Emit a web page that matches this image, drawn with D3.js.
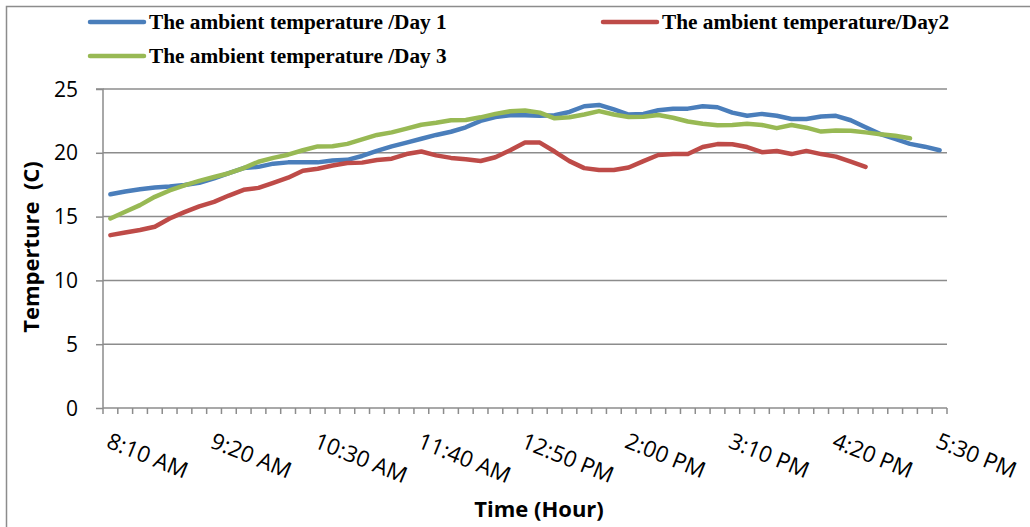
<!DOCTYPE html>
<html lang="en">
<head>
    <meta charset="UTF-8">
    <title>Ambient temperature, three days</title>
    <script src="https://d3js.org/d3.v7.min.js"></script>
    <style>
        body { margin: 0; background: #fff; }
        svg { display: block; overflow: hidden; }
        .grid line { stroke: #8c8c8c; stroke-width: 1.5px; }
        .axis path, .axis line { stroke: #8c8c8c; stroke-width: 1.5px; }
        .tick-label { font-family: "Open Sans", sans-serif; font-size: 21px; fill: #000; }
        .x-label { font-size: 22.5px; }
        .title { font-family: "Open Sans", sans-serif; font-size: 22px; font-weight: bold; fill: #000; }
        .legend text { font-family: "Liberation Serif", "Times New Roman", serif; font-size: 21.3px; font-weight: bold; fill: #000; }
        .series { fill: none; stroke-width: 4.5px; stroke-linejoin: round; stroke-linecap: round; }
    </style>
</head>

<body>
<svg width="1030" height="527"></svg>
<script type="text/javascript">
    // categories: one reading every 10 minutes
    let times = ["8:10 AM","8:20 AM","8:30 AM","8:40 AM","8:50 AM","9:00 AM","9:10 AM","9:20 AM","9:30 AM","9:40 AM",
        "9:50 AM","10:00 AM","10:10 AM","10:20 AM","10:30 AM","10:40 AM","10:50 AM","11:00 AM","11:10 AM","11:20 AM",
        "11:30 AM","11:40 AM","11:50 AM","12:00 PM","12:10 PM","12:20 PM","12:30 PM","12:40 PM","12:50 PM","1:00 PM",
        "1:10 PM","1:20 PM","1:30 PM","1:40 PM","1:50 PM","2:00 PM","2:10 PM","2:20 PM","2:30 PM","2:40 PM",
        "2:50 PM","3:00 PM","3:10 PM","3:20 PM","3:30 PM","3:40 PM","3:50 PM","4:00 PM","4:10 PM","4:20 PM",
        "4:30 PM","4:40 PM","4:50 PM","5:00 PM","5:10 PM","5:20 PM","5:30 PM"];

    let day1 = [16.75,16.97,17.15,17.28,17.36,17.48,17.65,18.0,18.4,18.8,
        18.9,19.15,19.25,19.25,19.25,19.4,19.45,19.75,20.15,20.5,
        20.8,21.1,21.4,21.65,22.0,22.5,22.8,22.95,22.95,22.9,
        22.95,23.2,23.65,23.75,23.4,23.0,23.05,23.33,23.45,23.46,
        23.65,23.57,23.15,22.9,23.05,22.9,22.65,22.65,22.85,22.9,
        22.55,22.0,21.47,21.1,20.7,20.48,20.2];

    let day2 = [13.55,13.75,13.95,14.2,14.85,15.35,15.8,16.15,16.65,17.1,
        17.25,17.65,18.05,18.6,18.75,19.0,19.2,19.23,19.44,19.54,
        19.9,20.1,19.8,19.6,19.5,19.36,19.65,20.2,20.8,20.8,
        20.1,19.35,18.8,18.65,18.65,18.85,19.35,19.83,19.9,19.9,
        20.45,20.68,20.67,20.45,20.05,20.14,19.9,20.15,19.9,19.7,
        19.3,18.9];

    let day3 = [14.85,15.38,15.9,16.55,17.05,17.45,17.8,18.1,18.4,18.8,
        19.3,19.6,19.85,20.2,20.5,20.52,20.7,21.05,21.4,21.6,
        21.9,22.2,22.35,22.55,22.57,22.78,23.05,23.25,23.32,23.15,
        22.7,22.78,23.0,23.27,23.0,22.8,22.83,22.96,22.75,22.45,
        22.27,22.16,22.18,22.27,22.18,21.93,22.18,21.97,21.66,21.75,
        21.73,21.6,21.45,21.34,21.14];

    let yTicks = [0, 5, 10, 15, 20, 25];
    let labelEvery = 7;

    let series = [
        {name: "The ambient temperature /Day 1", values: day1, color: "#4a7ebb"},
        {name: "The ambient temperature/Day2", values: day2, color: "#be4b48"},
        {name: "The ambient temperature /Day 3", values: day3, color: "#98b954"}
    ];

    function draw() {
        let svg = d3.select("svg");
        let left = 103, right = 947, top = 89, bottom = 408;

        // chart frame
        svg.append("rect")
            .attr("x", 6.5).attr("y", 6.5)
            .attr("width", 1060).attr("height", 560)
            .attr("fill", "none").attr("stroke", "#8c8c8c").attr("stroke-width", 1.5);

        let x = d3.scaleBand().domain(times).range([left, right]).padding(0);
        let y = d3.scaleLinear().domain([0, 25]).range([bottom, top]);

        // horizontal gridlines + y ticks outside
        svg.append("g").attr("class", "grid")
            .selectAll("line")
            .data(yTicks.filter(d => d > 0))
            .join("line")
            .attr("x1", left).attr("x2", right)
            .attr("y1", d => y(d)).attr("y2", d => y(d));

        svg.append("g").attr("class", "axis")
            .attr("transform", `translate(${left},0)`)
            .call(d3.axisLeft(y).tickValues(yTicks).tickSize(7).tickFormat(""))
            .call(g => g.select(".domain").attr("d", `M-7,${top}H0V${bottom}`));

        svg.append("g")
            .selectAll("text")
            .data(yTicks)
            .join("text")
            .attr("class", "tick-label")
            .attr("x", 78)
            .attr("y", d => y(d))
            .attr("dy", "0.36em")
            .attr("text-anchor", "end")
            .text(d => d);

        // x axis: ticks between categories
        let bounds = times.map(t => x(t)).concat([right]);
        let xg = svg.append("g").attr("class", "axis");
        xg.append("line")
            .attr("x1", left).attr("x2", right)
            .attr("y1", bottom).attr("y2", bottom);
        xg.selectAll("line.tk")
            .data(bounds)
            .join("line")
            .attr("class", "tk")
            .attr("x1", d => d).attr("x2", d => d)
            .attr("y1", bottom).attr("y2", bottom + 6);

        svg.append("g")
            .selectAll("text")
            .data(times.filter((t, i) => i % labelEvery === 0))
            .join("text")
            .attr("class", "tick-label x-label")
            .attr("transform", d => `translate(${x(d) + x.bandwidth() / 2 + 1},${432}) rotate(22)`)
            .attr("dy", "0.72em")
            .text(d => d);

        // lines
        let line = d3.line()
            .x((d, i) => x(times[i]) + x.bandwidth() / 2)
            .y(d => y(d));

        svg.append("g")
            .selectAll("path")
            .data(series)
            .join("path")
            .attr("class", "series")
            .attr("stroke", d => d.color)
            .attr("d", d => line(d.values));

        // titles
        svg.append("text")
            .attr("class", "title")
            .attr("x", 539).attr("y", 517)
            .attr("text-anchor", "middle")
            .text("Time (Hour)");

        svg.append("text")
            .attr("class", "title")
            .attr("transform", "translate(38.5,247) rotate(-90)")
            .attr("text-anchor", "middle")
            .attr("xml:space", "preserve")
            .style("white-space", "pre")
            .text("Temperture  (C)");

        // legend
        let legendPos = [[90, 22], [603, 22], [90, 56]];
        let lg = svg.append("g").attr("class", "legend")
            .selectAll("g")
            .data(series)
            .join("g")
            .attr("transform", (d, i) => `translate(${legendPos[i][0]},${legendPos[i][1]})`);
        lg.append("line")
            .attr("x1", 0).attr("x2", 54)
            .attr("stroke", d => d.color)
            .attr("stroke-width", 4.5)
            .attr("stroke-linecap", "round");
        lg.append("text")
            .attr("x", 59).attr("y", 7)
            .text(d => d.name);
    }
    draw();
</script>
</body>
</html>
